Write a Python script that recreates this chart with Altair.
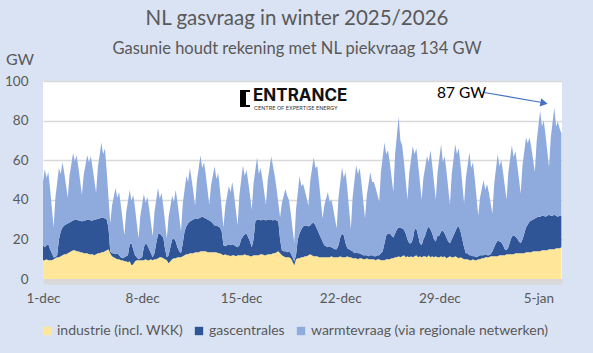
import altair as alt
import pandas as pd

# --- data (3-hourly, hours 0,3,...,21 per day) ---
# upper edge of the whole stack (total demand, GW)
top_total = [
    [49, 55.5, 51, 54, 45.6, 35.8, 26, 41],
    [48.5, 56, 53, 59, 53.6, 47.3, 41, 52.3],
    [57.9, 63.5, 59.5, 62.5, 56.5, 49.5, 42.5, 52.5],
    [57.5, 62.5, 59, 62, 56.3, 50, 43.5, 56.3],
    [62.6, 69, 63, 66, 54.6, 41.3, 28, 37],
    [41.5, 46, 41, 44, 37.4, 29.7, 22, 33.5],
    [39.3, 45, 39.5, 42.5, 35.9, 28.2, 20.5, 31.8],
    [37.4, 43, 38.5, 41.5, 35.5, 28.5, 21.5, 33.8],
    [39.9, 46, 40.5, 43.5, 36.6, 28.6, 20.5, 31.3],
    [36.6, 42, 39, 45, 38.7, 31.4, 24, 38],
    [45, 52, 49, 56, 50.3, 43.7, 37, 49.8],
    [56.1, 62.5, 56, 59, 52.6, 45, 37.5, 47.3],
    [52.1, 57, 50.5, 53.5, 45.3, 35.6, 26, 36.5],
    [41.8, 47, 44, 49, 42.4, 34.7, 27, 42.3],
    [49.9, 57.5, 52, 55, 49, 42, 35, 48.3],
    [54.9, 61.5, 53, 56, 50.5, 44, 37.5, 49.8],
    [55.9, 62, 57, 52, 45.7, 38.4, 31, 38.3],
    [41.9, 45.5, 42, 40, 33.4, 25.7, 18, 35],
    [43.5, 52, 47, 48, 44.7, 40.9, 37, 49.3],
    [55.4, 61.5, 56, 57, 49, 39.8, 30.5, 37.3],
    [40.6, 44, 39, 40, 35.7, 30.6, 25.5, 41],
    [48.8, 56.5, 51, 54, 45.3, 35.2, 25, 41.3],
    [49.4, 57.5, 53, 56, 48.4, 39.4, 30.5, 42.3],
    [48.1, 54, 49, 49, 46, 42.5, 39, 54],
    [61.5, 69, 63, 65, 58.7, 51.4, 44, 63],
    [72.5, 82, 70, 67.5, 59.3, 49.6, 40, 53.5],
    [60.3, 67, 63, 66, 58.2, 49.1, 40, 51],
    [56.5, 62, 59, 65, 57.5, 48.8, 40, 54],
    [61, 68, 59, 62, 54.7, 46.1, 37.5, 52.8],
    [60.4, 68, 63, 66, 57.6, 47.8, 38, 51],
    [57.5, 64, 56, 59, 50.9, 41.5, 32, 41],
    [45.5, 50, 45, 48, 43.5, 38.3, 33, 48],
    [55.5, 63, 57, 60, 54, 47, 40, 53.8],
    [60.6, 67.5, 61.5, 64.5, 58, 50.5, 43, 57.3],
    [64.4, 71.5, 68.5, 71.5, 66.3, 60.1, 54, 69.5],
    [77.3, 85, 77, 80, 73, 64.7, 56.5, 71.5],
    [79, 86.5, 77, 79.5, 76, 73.5],
]

# upper edge of the gascentrales band (industrie + gascentrales, GW)
top_gas = [
    [17, 16, 17, 17.5, 15, 13, 11, 11],
    [12, 20, 24, 26, 27, 27.5, 28, 28.5],
    [29, 29.5, 30, 30, 29.5, 29.5, 29, 29.5],
    [29.5, 30, 30, 29.5, 29.5, 30, 30, 30.5],
    [30.5, 31, 31, 30.5, 30, 26, 14, 13],
    [13, 12.5, 13, 12, 11, 10.5, 11, 11.5],
    [12, 17.5, 18, 15, 12, 11, 10, 10.5],
    [11, 16, 18, 17, 15, 13, 11, 13],
    [18, 22.5, 23, 22, 21, 15, 11, 12],
    [16, 20, 20.5, 19, 16, 14, 13, 18],
    [24, 26.5, 28, 29, 29.5, 30, 30.5, 30.5],
    [30.5, 31, 31.5, 31, 30.5, 30, 29.5, 29],
    [28, 27, 27, 26.5, 26, 24, 17, 16.5],
    [17, 17.5, 17, 17.5, 17, 16.5, 16, 17],
    [20, 21.5, 22.5, 23, 21, 19, 16, 20],
    [29, 30, 30, 29.5, 30, 30, 29.5, 30],
    [30, 30, 29.5, 30, 29.5, 29, 20, 14.5],
    [14, 14, 13.5, 14, 13, 11, 9, 12],
    [20, 23, 25, 26.5, 27, 27, 26.5, 27],
    [28, 28.5, 27, 25, 23, 21, 19, 17],
    [16.5, 16, 16.5, 16, 15.5, 15, 15, 17],
    [21, 23, 22, 18, 15.5, 15, 14.5, 14],
    [13, 13.5, 13, 13, 12.5, 12, 12, 12],
    [11.5, 12, 12, 11.5, 11.5, 12, 12, 13],
    [14, 18, 22, 23, 23, 22, 21, 23],
    [25, 26, 26, 25.5, 25, 23, 20, 18],
    [18, 20, 25, 25.5, 22, 18, 17, 20],
    [22, 25, 26.5, 25, 23, 20, 19, 22],
    [22, 24, 24.5, 23, 21, 19, 18, 20],
    [22, 24, 26, 26.5, 24, 20, 16, 13],
    [13, 12, 12, 11.5, 11.5, 11, 11.5, 12],
    [12, 12, 12.5, 12, 12, 12.5, 14, 16],
    [18, 19.5, 19, 18.5, 17, 15, 14.5, 16],
    [19, 21.5, 22, 21.5, 20.5, 19, 18, 20],
    [23, 26, 27.5, 29, 29.5, 30, 30.5, 31],
    [31.5, 31.5, 32, 32, 31.5, 32, 32.5, 32],
    [32, 32.5, 32, 31.5, 32, 32],
]

# industrie (incl. WKK), GW
industrie = [
    [9.5, 9.5, 10, 9.5, 9.5, 9.5, 10, 10.5],
    [11, 11, 11.5, 12, 12.5, 12.5, 13, 13.5],
    [14, 14.5, 14.5, 14, 14, 13.5, 13.5, 13],
    [13, 13, 12.5, 12.5, 12.5, 12, 12.5, 13],
    [13, 13.5, 13.5, 14, 14.5, 15, 13, 11.5],
    [11, 10.5, 10, 10, 9.5, 9.5, 9, 9],
    [8.5, 9, 7, 7.5, 9, 9.5, 9.5, 9.5],
    [9.5, 9.5, 10, 9.5, 9.5, 10, 9.5, 10],
    [10, 10.5, 11, 11, 10.5, 10, 9.5, 8],
    [9, 10, 10.5, 10.5, 11, 11, 11, 11.5],
    [12, 12.5, 12.5, 13, 13, 13, 13.5, 13.5],
    [13.5, 14, 14, 14, 14, 13.5, 13.5, 13.5],
    [13.5, 13.5, 13.5, 13, 13, 12.5, 12, 12.5],
    [12, 12, 11.5, 12, 12, 11.5, 12, 12],
    [12, 12, 12.5, 12, 12, 11.5, 11.5, 12],
    [12, 12, 12, 12.5, 12.5, 12, 12, 12.5],
    [12.5, 12.5, 13, 13, 13.5, 14, 13, 12],
    [11.5, 11, 11, 11, 10.5, 9, 7, 10],
    [10.5, 10.5, 11, 11, 11.5, 11.5, 12, 12.5],
    [12, 11.5, 11.5, 11.5, 11, 11, 11, 11],
    [11, 11, 11, 11.5, 11, 11, 11, 11],
    [11.5, 11, 11, 11, 11.5, 11, 11, 10.5],
    [10.5, 10.5, 10, 10.5, 10.5, 10, 10, 10.5],
    [10, 10, 10, 10, 9.5, 10, 10, 9.5],
    [9.5, 9.5, 10, 10, 10, 10.5, 10.5, 11],
    [11, 11.5, 11, 11.5, 12, 11, 11.5, 11],
    [11.5, 11, 11.5, 12, 11, 11.5, 11, 11.5],
    [11.5, 11, 12, 11, 11.5, 11, 11.5, 11],
    [11, 11.5, 11, 11.5, 10.5, 11, 11.5, 11],
    [11, 11.5, 11, 10.5, 11, 10.5, 10, 10],
    [10, 9.5, 9.5, 10, 9.5, 9.5, 10, 10],
    [10.5, 10.5, 11, 11, 11, 11.5, 11.5, 11.5],
    [11.5, 11.5, 12, 12, 12, 12, 12.5, 12.5],
    [12.5, 12.5, 12.5, 13, 13, 13, 13, 13],
    [13, 13.5, 13.5, 13.5, 13.5, 14, 14, 14],
    [14, 14, 14.5, 14.5, 14.5, 14.5, 15, 15],
    [15, 15, 15.5, 15.5, 15.5, 16],
]

series_names = [
    "industrie (incl. WKK)",
    "gascentrales",
    "warmtevraag (via regionale netwerken)",
]
series_colors = ["#ffe699", "#2f5597", "#8faadc"]
tick_dates = [(2025, 12, 1), (2025, 12, 8), (2025, 12, 15), (2025, 12, 22),
              (2025, 12, 29), (2026, 1, 5)]

# --- build long table ---
flat_total = [v for day in top_total for v in day]
flat_gas = [v for day in top_gas for v in day]
flat_ind = [v for day in industrie for v in day]
times = pd.date_range("2025-12-01 00:00", periods=len(flat_total), freq="3h")

rows = []
for t, tt, tg, ti in zip(times, flat_total, flat_gas, flat_ind):
    vals = [ti, tg - ti, tt - tg]
    for k, (name, v) in enumerate(zip(series_names, vals)):
        rows.append({"time": t.strftime("%Y-%m-%dT%H:%M:%S"), "series": name,
                     "value": round(v, 2), "ord": k})
df = pd.DataFrame(rows)

FONT = "Lato"
GREY = "#595959"

x_axis = alt.Axis(
    values=[alt.DateTime(year=y, month=m, date=d) for (y, m, d) in tick_dates],
    labelExpr="date(datum.value) + '-' + (month(datum.value) == 11 ? 'dec' : 'jan')",
    title=None, ticks=False, tickSize=0, grid=False,
    domainColor="#d9d9d9", domainWidth=5, offset=2.5,
    labelPadding=10, labelColor=GREY, labelFontSize=13.5, labelFont=FONT,
    labelFlush=False,
)
y_axis = alt.Axis(
    values=[0, 20, 40, 60, 80, 100], title=None, ticks=False, domain=False,
    gridColor="#d9d9d9", gridWidth=1.3, labelPadding=15,
    labelColor=GREY, labelFontSize=13.5, labelFont=FONT,
)

areas = alt.Chart(df).mark_area(interpolate="linear").encode(
    x=alt.X("time:T", axis=x_axis,
            scale=alt.Scale(domain=[alt.DateTime(year=2025, month=12, date=1, hours=0),
                                    alt.DateTime(year=2026, month=1, date=6, hours=16)])),
    y=alt.Y("value:Q", stack="zero", axis=y_axis, scale=alt.Scale(domain=[0, 100])),
    color=alt.Color("series:N",
                    scale=alt.Scale(domain=series_names, range=series_colors),
                    legend=alt.Legend(
                        title=None, orient="none", direction="horizontal",
                        legendX=-3, legendY=243, symbolType="square",
                        symbolSize=70, symbolStrokeWidth=0,
                        labelFont=FONT, labelFontSize=14, labelColor=GREY,
                        columnPadding=9, labelOffset=3, labelLimit=400)),
    order=alt.Order("ord:Q"),
)

one = pd.DataFrame({"a": [0]})


def text(txt, x, y, size, color=GREY, align="center", weight="normal", font=FONT,
         baseline="middle"):
    return alt.Chart(one).mark_text(
        text=txt, fontSize=size, color=color, align=align, fontWeight=weight,
        font=font, baseline=baseline,
    ).encode(x=alt.value(x), y=alt.value(y))


def box(x1, x2, y1, y2, color="black"):
    return alt.Chart(one).mark_rect(color=color).encode(
        x=alt.value(x1), x2=alt.value(x2), y=alt.value(y1), y2=alt.value(y2))


title = text("NL gasvraag in winter 2025/2026", 254, -62, 20.5)
subtitle = text("Gasunie houdt rekening met NL piekvraag 134 GW", 254, -32, 16.5)
gw = text("GW", -23, -21, 16)
label87 = text("87 GW", 394, 12, 15.5, color="#000000", align="left")

arrow_line = alt.Chart(one).mark_rule(color="#4472c4", strokeWidth=1.2).encode(
    x=alt.value(441), y=alt.value(11.5), x2=alt.value(499), y2=alt.value(21.5))
arrow_head = alt.Chart(one).mark_point(
    shape="triangle-right", filled=True, color="#4472c4", size=70, angle=10,
    opacity=1).encode(x=alt.value(501), y=alt.value(22))

logo = alt.layer(
    box(197, 203, 9, 26),
    box(203, 207, 9, 11),
    box(203, 207, 24, 26),
    text("ENTRANCE", 210, 20, 17, color="#111111", align="left",
         weight="bold", font="Inter", baseline="alphabetic"),
    text("CENTRE OF EXPERTISE ENERGY", 211, 28.5, 5.4, color="#333333",
         align="left", font="Inter", baseline="alphabetic"),
)

chart = alt.layer(
    areas, title, subtitle, gw, logo, arrow_line, arrow_head, label87
).properties(
    width=519, height=198,
    autosize=alt.AutoSizeParams(type="none"),
    padding={"left": 43, "top": 81, "right": 31, "bottom": 74},
).configure(
    background="#dae3f3",
).configure_view(
    fill="white", stroke=None,
)

chart.save("out.html", embed_options={"renderer": "svg", "actions": False})
